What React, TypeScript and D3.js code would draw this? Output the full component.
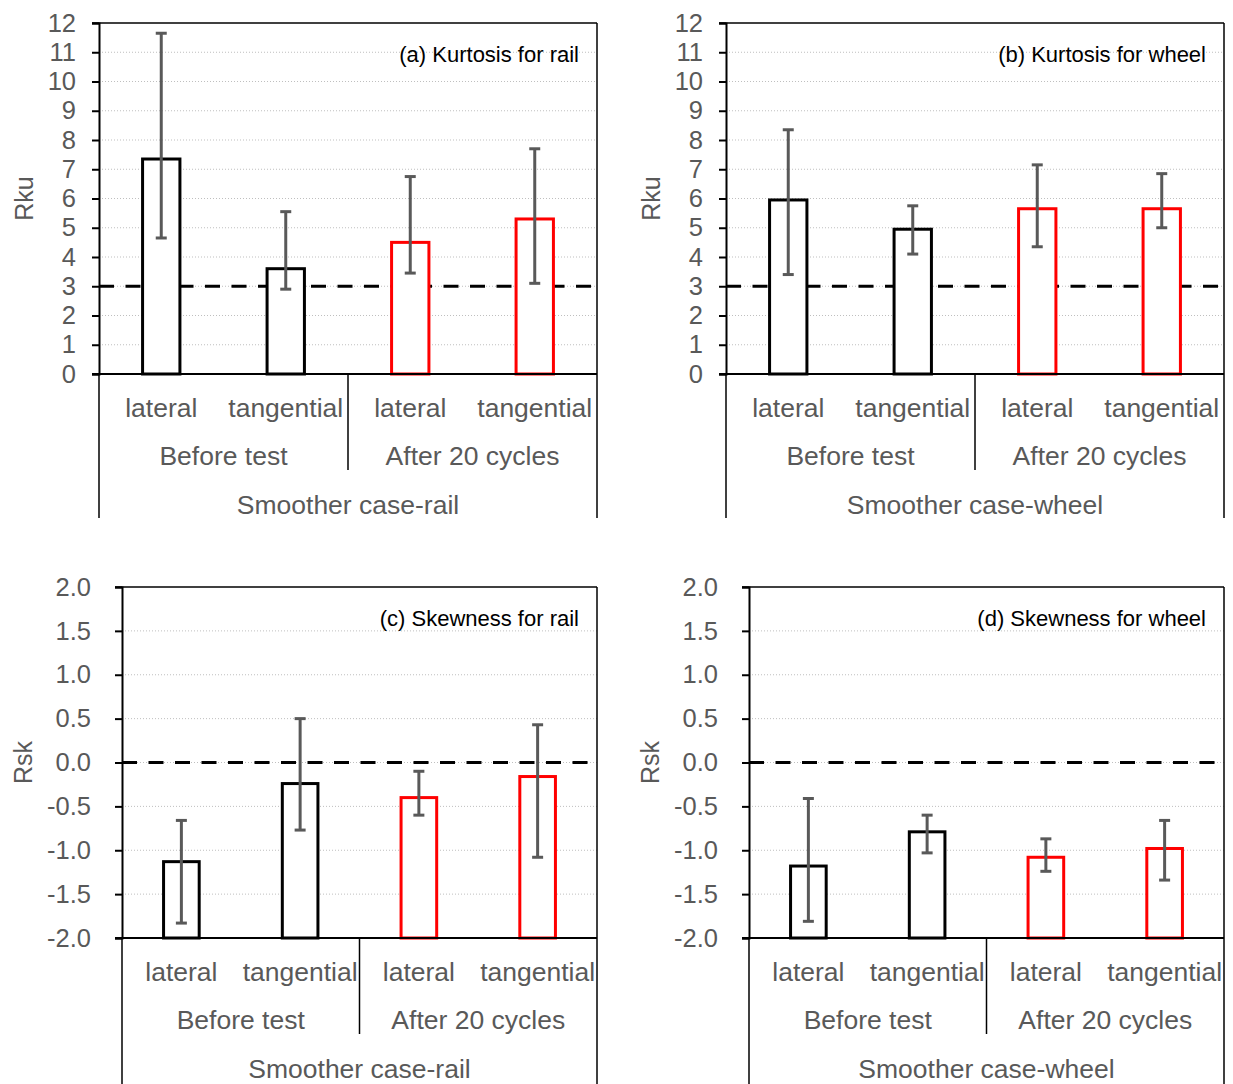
import { useEffect, useRef } from 'react';
import * as d3 from 'd3';

// categories / groups shared by all four panels
const categories = ['lateral', 'tangential', 'lateral', 'tangential'];
const groups = ['Before test', 'After 20 cycles'];
const barColors = ['#000000', '#000000', '#ff0000', '#ff0000'];

// (a) kurtosis for rail
const kuRailMean = [7.35, 3.6, 4.5, 5.3];
const kuRailHi = [11.65, 5.55, 6.75, 7.7];
const kuRailLo = [4.65, 2.9, 3.45, 3.1];

// (b) kurtosis for wheel
const kuWheelMean = [5.95, 4.95, 5.65, 5.65];
const kuWheelHi = [8.35, 5.75, 7.15, 6.85];
const kuWheelLo = [3.4, 4.1, 4.35, 5.0];

// (c) skewness for rail
const skRailMean = [-1.13, -0.24, -0.4, -0.16];
const skRailHi = [-0.66, 0.5, -0.1, 0.43];
const skRailLo = [-1.83, -0.77, -0.6, -1.08];

// (d) skewness for wheel
const skWheelMean = [-1.18, -0.79, -1.08, -0.98];
const skWheelHi = [-0.41, -0.6, -0.87, -0.66];
const skWheelLo = [-1.81, -1.03, -1.24, -1.34];

const kuTicks = [0, 1, 2, 3, 4, 5, 6, 7, 8, 9, 10, 11, 12];
const skTicks = [-2, -1.5, -1, -0.5, 0, 0.5, 1, 1.5, 2];

const FONT = 'Liberation Sans, Arial, Helvetica, sans-serif';
const GREY = '#595959';

type Panel = {
  title: string;
  yLabel: string;
  caseLabel: string;
  mean: number[];
  hi: number[];
  lo: number[];
  ticks: number[];
  domain: [number, number];
  refLine: number;
  fmt: (v: number) => string;
  left: number;
  right: number;
  top: number;
  bottom: number;
  labelGap: number;
  yLabelOff: number;
  extBottom: number;
};

export default function App() {
  const svgRef = useRef<SVGSVGElement | null>(null);

  useEffect(() => {
    const el = svgRef.current;
    if (!el) return;
    d3.select(el).selectAll('*').remove();
    const svg = d3.select(el);

    const kuFmt = (v: number) => `${v}`;
    // plain hyphen for negatives, like the original
    const skFmt = (v: number) => v.toFixed(1);

    const panels: Panel[] = [
      { title: '(a) Kurtosis for rail', yLabel: 'Rku', caseLabel: 'Smoother case-rail', mean: kuRailMean, hi: kuRailHi, lo: kuRailLo, ticks: kuTicks, domain: [0, 12], refLine: 3, fmt: kuFmt, left: 99, right: 597, top: 23, bottom: 374, labelGap: 23, yLabelOff: 75, extBottom: 518 },
      { title: '(b) Kurtosis for wheel', yLabel: 'Rku', caseLabel: 'Smoother case-wheel', mean: kuWheelMean, hi: kuWheelHi, lo: kuWheelLo, ticks: kuTicks, domain: [0, 12], refLine: 3, fmt: kuFmt, left: 726, right: 1224, top: 23, bottom: 374, labelGap: 23, yLabelOff: 75, extBottom: 518 },
      { title: '(c) Skewness for rail', yLabel: 'Rsk', caseLabel: 'Smoother case-rail', mean: skRailMean, hi: skRailHi, lo: skRailLo, ticks: skTicks, domain: [-2, 2], refLine: 0, fmt: skFmt, left: 122, right: 597, top: 587, bottom: 938, labelGap: 31, yLabelOff: 99, extBottom: 1084 },
      { title: '(d) Skewness for wheel', yLabel: 'Rsk', caseLabel: 'Smoother case-wheel', mean: skWheelMean, hi: skWheelHi, lo: skWheelLo, ticks: skTicks, domain: [-2, 2], refLine: 0, fmt: skFmt, left: 749, right: 1224, top: 587, bottom: 938, labelGap: 31, yLabelOff: 99, extBottom: 1084 },
    ];

    panels.forEach(p => {
      const g = svg.append('g');
      const y = d3.scaleLinear().domain(p.domain).range([p.bottom, p.top]);
      const x = d3.scaleBand<number>()
        .domain(d3.range(categories.length))
        .range([p.left, p.right])
        .paddingInner(0.7)
        .paddingOuter(0.35);
      const step = x.step();

      // dotted gridlines
      g.selectAll('line.grid')
        .data(p.ticks.slice(1, -1))
        .join('line')
        .attr('x1', p.left).attr('x2', p.right)
        .attr('y1', d => y(d)).attr('y2', d => y(d))
        .attr('stroke', '#bfbfbf')
        .attr('stroke-width', 1)
        .attr('stroke-dasharray', '1,2');

      // reference dashed line
      g.append('line')
        .attr('x1', p.left).attr('x2', p.right)
        .attr('y1', y(p.refLine)).attr('y2', y(p.refLine))
        .attr('stroke', '#000')
        .attr('stroke-width', 3)
        .attr('stroke-dasharray', '15,11.5');

      // bars from the axis minimum
      g.selectAll('rect.bar')
        .data(p.mean)
        .join('rect')
        .attr('x', (_, i) => x(i)!)
        .attr('width', x.bandwidth())
        .attr('y', d => y(d))
        .attr('height', d => y(p.domain[0]) - y(d))
        .attr('fill', '#fff')
        .attr('stroke', (_, i) => barColors[i])
        .attr('stroke-width', 3);

      // error bars
      p.mean.forEach((_, i) => {
        const cx = x(i)! + x.bandwidth() / 2;
        const eg = g.append('g').attr('stroke', GREY).attr('stroke-width', 3);
        eg.append('line').attr('x1', cx).attr('x2', cx).attr('y1', y(p.hi[i])).attr('y2', y(p.lo[i]));
        eg.append('line').attr('x1', cx - 5.5).attr('x2', cx + 5.5).attr('y1', y(p.hi[i])).attr('y2', y(p.hi[i]));
        eg.append('line').attr('x1', cx - 5.5).attr('x2', cx + 5.5).attr('y1', y(p.lo[i])).attr('y2', y(p.lo[i]));
      });

      // plot frame: top and right
      g.append('line').attr('x1', p.left - 7).attr('x2', p.right).attr('y1', p.top).attr('y2', p.top)
        .attr('stroke', '#000').attr('stroke-width', 1.5);
      g.append('line').attr('x1', p.right).attr('x2', p.right).attr('y1', p.top).attr('y2', p.extBottom)
        .attr('stroke', '#000').attr('stroke-width', 1.5);

      // value axis
      const yAxis = g.append('g')
        .attr('transform', `translate(${p.left},0)`)
        .call(d3.axisLeft(y).tickValues(p.ticks).tickSize(7).tickPadding(p.labelGap - 7).tickFormat(d => p.fmt(+d)));
      yAxis.select('.domain').attr('stroke', '#000').attr('stroke-width', 2);
      yAxis.selectAll('.tick line').attr('stroke', '#000').attr('stroke-width', 2);
      yAxis.selectAll('.tick text')
        .attr('fill', GREY)
        .style('font-family', FONT)
        .style('font-size', '25.5px');

      // bottom axis line
      g.append('line').attr('x1', p.left - 7).attr('x2', p.right).attr('y1', p.bottom).attr('y2', p.bottom)
        .attr('stroke', '#000').attr('stroke-width', 2);

      // multi-level category axis
      g.append('line').attr('x1', p.left).attr('x2', p.left).attr('y1', p.bottom).attr('y2', p.extBottom)
        .attr('stroke', '#000').attr('stroke-width', 1.5);
      const mid = p.left + step * 2;
      g.append('line').attr('x1', mid).attr('x2', mid).attr('y1', p.bottom).attr('y2', p.bottom + 96)
        .attr('stroke', '#000').attr('stroke-width', 1.5);

      const txt = (sel: d3.Selection<SVGTextElement, any, any, any>, size: number) =>
        sel.attr('fill', GREY).attr('text-anchor', 'middle')
          .style('font-family', FONT).style('font-size', `${size}px`);

      g.selectAll('text.cat')
        .data(categories)
        .join('text')
        .attr('x', (_, i) => x(i)! + x.bandwidth() / 2)
        .attr('y', p.bottom + 43)
        .text(d => d)
        .call(s => txt(s as any, 26.5));

      g.selectAll('text.grp')
        .data(groups)
        .join('text')
        .attr('x', (_, i) => p.left + step * (2 * i + 1))
        .attr('y', p.bottom + 91)
        .text(d => d)
        .call(s => txt(s as any, 26.5));

      g.append('text')
        .attr('x', (p.left + p.right) / 2)
        .attr('y', p.bottom + 140)
        .text(p.caseLabel)
        .call(s => txt(s as any, 26.5));

      // y label
      g.append('text')
        .attr('transform', `translate(${p.left - p.yLabelOff},${(p.top + p.bottom) / 2}) rotate(-90)`)
        .attr('dy', '0.35em')
        .text(p.yLabel)
        .call(s => txt(s as any, 25));

      // panel title
      g.append('text')
        .attr('x', p.right - 18)
        .attr('y', p.top + 39)
        .attr('text-anchor', 'end')
        .attr('fill', '#000')
        .style('font-family', FONT)
        .style('font-size', '22px')
        .text(p.title);
    });
  }, []);

  return (
    <div style={{ position: 'absolute', left: 0, top: 0 }}>
      <svg ref={svgRef} width={1233} height={1084} style={{ display: 'block', background: '#fff' }} />
    </div>
  );
}
